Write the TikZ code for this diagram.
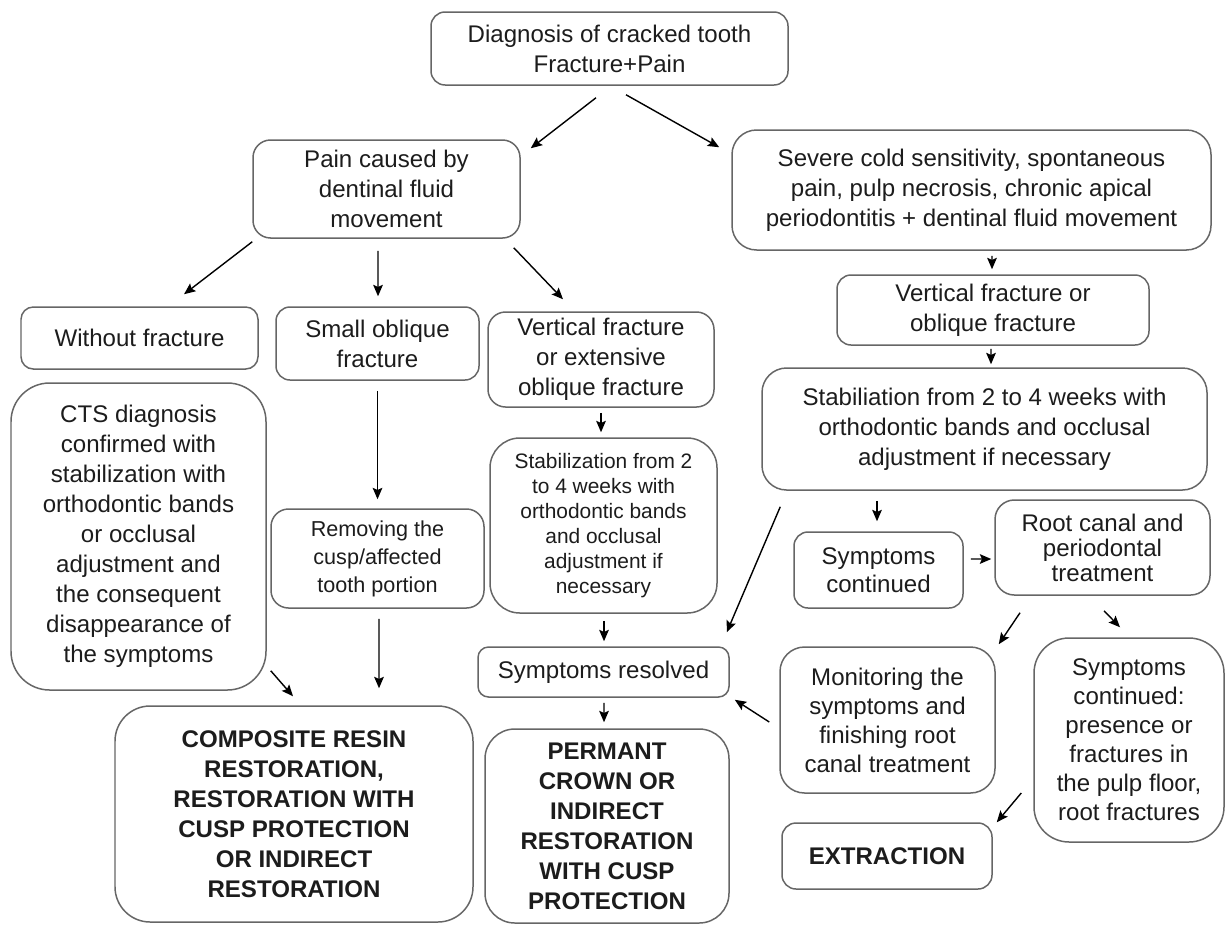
\documentclass[tikz,border=0pt]{standalone}
\usepackage{fontspec}
\setmainfont{Liberation Sans}
\usetikzlibrary{arrows.meta, positioning, calc}
\definecolor{boxgray}{HTML}{666666}
\definecolor{inkgray}{HTML}{1C1C1C}
\newlength\pxu
\setlength\pxu{0.02cm}
\tikzset{
  tbox/.style={rectangle, rounded corners=#1, draw=boxgray, line width=0.85pt,
               align=center, inner sep=0pt, text=inkgray,
               font=\fontsize{13.7}{17.1}\selectfont},
  tbox/.default=8pt,
  bbox/.style={tbox=#1, font=\fontsize{13.7}{17.1}\selectfont\bfseries},
  bbox/.default=16pt,
  arr/.style={-{Stealth[length=6.5pt, width=5.5pt, inset=1.2pt]}, line width=0.8pt, #1},
  arr/.default=black,
}

\begin{document}
\begin{tikzpicture}[x=0.02cm, y=-0.02cm]
\useasboundingbox (0,0) rectangle (1226,927);
\node[tbox, minimum width=357\pxu, minimum height=73\pxu] (diag) at (609.5,48.5)
  {Diagnosis of cracked tooth\\Fracture+Pain};
\node[tbox=10pt, minimum width=267\pxu, minimum height=98\pxu] (pain) at (386.5,189)
  {Pain caused by\\dentinal fluid\\movement};
\node[tbox=14pt, minimum width=479\pxu, minimum height=120\pxu] (severe) at (971.5,190)
  {Severe cold sensitivity, spontaneous\\pain, pulp necrosis, chronic apical\\periodontitis + dentinal fluid movement};
\node[tbox=7pt, minimum width=237\pxu, minimum height=62\pxu] (nofrac) at (139.5,338)
  {Without fracture};
\node[tbox, minimum width=203\pxu, minimum height=73\pxu] (small) at (377.5,343.5)
  {Small oblique\\fracture};
\node[tbox=10pt, minimum width=226\pxu, minimum height=95\pxu] (vfmid) at (601,359.5)
  {Vertical fracture\\or extensive\\oblique fracture};
\node[tbox, minimum width=312\pxu, minimum height=70\pxu] (vfright) at (993,310)
  {Vertical fracture or\\oblique fracture};
\node[tbox=14pt, minimum width=445\pxu, minimum height=122\pxu] (stabr) at (984.5,429)
  {Stabiliation from 2 to 4 weeks with\\orthodontic bands and occlusal\\adjustment if necessary};
\node[tbox=22pt, minimum width=255\pxu, minimum height=307\pxu] (cts) at (138.5,536.5)
  {CTS diagnosis\\confirmed with\\stabilization with\\orthodontic bands\\or occlusal\\adjustment and\\the consequent\\disappearance of\\the symptoms};
\node[tbox=10pt, minimum width=213\pxu, minimum height=99\pxu,
      font=\fontsize{12.3}{15.9}\selectfont] (removing) at (377.5,558.5)
  {Removing the\\cusp/affected\\tooth portion};
\node[tbox=17pt, minimum width=227\pxu, minimum height=175\pxu,
      font=\fontsize{11.9}{14.2}\selectfont] (stabmid) at (603.5,525.5)
  {Stabilization from 2\\to 4 weeks with\\orthodontic bands\\and occlusal\\adjustment if\\necessary};
\node[tbox, minimum width=169\pxu, minimum height=76\pxu,
      font=\fontsize{13.7}{15.9}\selectfont] (sympcont) at (878.5,570)
  {Symptoms\\continued};
\node[tbox=11pt, minimum width=215\pxu, minimum height=95\pxu,
      font=\fontsize{13.7}{14.2}\selectfont] (root) at (1102.5,547.5)
  {Root canal and\\periodontal\\treatment};
\node[tbox=6pt, minimum width=251\pxu, minimum height=50\pxu] (resolved) at (603.5,672)
  {Symptoms resolved};
\node[bbox=20pt, minimum width=358\pxu, minimum height=216\pxu] (composite) at (294,814)
  {COMPOSITE RESIN\\RESTORATION,\\RESTORATION WITH\\CUSP PROTECTION\\OR INDIRECT\\RESTORATION};
\node[bbox=17pt, minimum width=244\pxu, minimum height=194\pxu] (permant) at (607,826)
  {PERMANT\\CROWN OR\\INDIRECT\\RESTORATION\\WITH CUSP\\PROTECTION};
\node[tbox=14pt, minimum width=215\pxu, minimum height=146\pxu,
      font=\fontsize{13.7}{16.5}\selectfont] (monitoring) at (887.5,720)
  {Monitoring the\\symptoms and\\finishing root\\canal treatment};
\node[tbox=20pt, minimum width=190\pxu, minimum height=204\pxu,
      font=\fontsize{13.7}{16.5}\selectfont] (sc2) at (1129,740)
  {Symptoms\\continued:\\presence or\\fractures in\\the pulp floor,\\root fractures};
\node[bbox=8pt, minimum width=210\pxu, minimum height=66\pxu] (extraction) at (887,856)
  {EXTRACTION};

\draw[arr] ($(diag.south)+(-13.5,12)$) -- ($(pain.north east)+(10,9)$);
\draw[arr] ($(diag.south)+(16.5,9)$) -- ($(severe.north west)+(-12,18)$);
\draw[arr] ($(pain.south west)+(0,3)$) -- ($(nofrac.north)+(44.5,-12)$);
\draw[arr] ($(pain.south)+(-8.5,12)$) -- ($(small.north)+(0.5,-10)$);
\draw[arr] ($(pain.south east)+(-7,9)$) -- ($(vfmid.north)+(-38,-12)$);
\draw[arr] ($(severe.south)+(20.5,5)$) -- ($(vfright.north)+(-1,-5)$);
\draw[arr] ($(vfright.south)+(-2,3)$) -- ($(stabr.north)+(6.5,-3)$);
\draw[arr] ($(stabr.south)+(-107.5,10)$) -- ($(sympcont.north)+(-1.5,-10)$);
\draw[arr] ($(sympcont.east)+(7,-11)$) -- ($(root.west)+(-3,11.5)$);
\draw[arr] ($(stabr.south west)+(19,16)$) -- ($(resolved.north east)+(-3,-14)$);
\draw[arr] ($(root.south)+(-82.5,17)$) -- ($(monitoring.north east)+(3,-2)$);
\draw[arr] ($(root.south)+(1.5,15)$) -- ($(sc2.north)+(-9,-10)$);
\draw[arr] ($(monitoring.west)+(-10,2)$) -- ($(resolved.south east)+(5,2)$);
\draw[arr] ($(sc2.west)+(-12,53)$) -- ($(extraction.north east)+(4,0)$);
\draw[arr] ($(vfmid.south)+(0,5)$) -- ($(stabmid.north)+(-2.5,-5)$);
\draw[arr] ($(stabmid.south)+(0.5,7)$) -- ($(resolved.north)+(0.5,-5)$);
\draw[arr] ($(resolved.south)+(0.5,5)$) -- ($(permant.north)+(-3,-6)$);
\draw[arr] ($(small.south)+(0,10)$) -- ($(removing.north)+(0,-9)$);
\draw[arr] ($(removing.south)+(1.5,10)$) -- ($(composite.north)+(85,-17)$);
\draw[arr] ($(cts.south east)+(4,-20)$) -- ($(composite.north)+(-1,-9)$);
\end{tikzpicture}
\end{document}
